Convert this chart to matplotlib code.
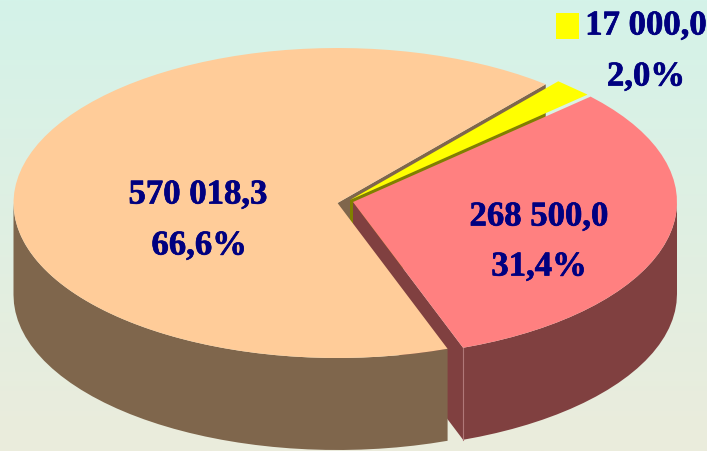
import numpy as np
import matplotlib
matplotlib.use('Agg')
import matplotlib.pyplot as plt
import matplotlib.patheffects as pe

# Values of the three slices
values = [570018.3, 17000.0, 268500.0]
value_labels = ['570 018,3', '17 000,0', '268 500,0']
percent_labels = ['66,6%', '2,0%', '31,4%']

top_colors = ['#FFCC99', '#FFFF00', '#FF8080']
side_colors = ['#7F664C', '#808000', '#804040']
text_color = '#000080'

# Look of the tilted pie, in pixels of the picture
RX = 324.0
RY = 155.0
DEPTH = 92.0
START = 50.0
centers = [(337.5, 203), (350, 200), (353, 202)]

plt.rcParams['font.family'] = ['Liberation Serif']

fig = plt.figure(figsize=(7.07, 4.51), dpi=100)
ax = fig.add_axes([0, 0, 1, 1])
ax.axis('off')

# Background gradient, mint on top to pale beige at the bottom
c1 = np.array([212, 243, 233]) / 255
c2 = np.array([235, 236, 220]) / 255
t = np.linspace(0, 1, 256)[:, None, None]
grad = c1[None, None, :] * (1 - t) + c2[None, None, :] * t
ax.imshow(grad, extent=[0, 707, 451, 0], aspect='auto', zorder=0)
ax.set_xlim(0, 707)
ax.set_ylim(451, 0)


def rim(center, deg):
    a = np.radians(deg)
    return center[0] + RX * np.cos(a), center[1] - RY * np.sin(a)


def arc(center, a1, a2):
    # a1 to a2 in degrees, going counter clockwise
    n = max(int(abs(a2 - a1) / 3), 2)
    return rim(center, np.linspace(a1, a2, n))


def cut_face(center, deg):
    x, y = rim(center, deg)
    px = [center[0], x, x, center[0]]
    py = [center[1], y, y + DEPTH, center[1] + DEPTH]
    return px, py


def outer_wall(center, a1, a2):
    x, y = arc(center, a1, a2)
    px = np.concatenate([x, x[::-1]])
    py = np.concatenate([y, y[::-1] + DEPTH])
    return px, py


def top(center, a1, a2):
    x, y = arc(center, a1, a2)
    return np.concatenate([[center[0]], x]), np.concatenate([[center[1]], y])


# Slice limits from the values, going clockwise from the orange slice start
total = sum(values)
sweep = [v / total * 360 for v in values]
orange_a = (START, START + sweep[0])
yellow_a = (START - sweep[1], START)
red_a = (START - sweep[1] - sweep[2], START - sweep[1])

# Cut faces
px, py = cut_face(centers[0], orange_a[0])
ax.fill(px, py, color=side_colors[0], lw=0, zorder=1)
px, py = cut_face(centers[1], yellow_a[0])
poly = ax.fill(px, py, color=side_colors[1], lw=0, zorder=2)[0]
# the olive face stops short of the rim in the original
poly.set_clip_path(plt.Rectangle((0, 0), 545, 451, transform=ax.transData))
px, py = cut_face(centers[2], red_a[0])
ax.fill(px, py, color=side_colors[2], lw=0, zorder=3)

# Outer walls, only the part facing us
px, py = outer_wall(centers[0], 180, orange_a[1])
ax.fill(px, py, color=side_colors[0], lw=0, zorder=4)
px, py = outer_wall(centers[2], red_a[0], 0)
ax.fill(px, py, color=side_colors[2], lw=0, zorder=4)

# Tops
px, py = top(centers[0], *orange_a)
ax.fill(px, py, color=top_colors[0], lw=0, zorder=5)
px, py = top(centers[1], *yellow_a)
ax.fill(px, py, color=top_colors[1], lw=0, zorder=5)
px, py = top(centers[2], *red_a)
ax.fill(px, py, color=top_colors[2], lw=0, zorder=6)

# Pale line on the corner of the red slice
x0, y0 = rim(centers[2], red_a[0])
ax.plot([x0, x0], [y0, y0 + DEPTH], color='#B07878', lw=0.8, zorder=7)

# Labels, the stroke makes them as heavy as in the original
font = dict(fontsize=25, fontweight='bold', color=text_color, ha='center', va='center', zorder=10,
            path_effects=[pe.withStroke(linewidth=0.5, foreground=text_color)])
ax.text(198, 195, value_labels[0], **font)
ax.text(199, 246, percent_labels[0], **font)
ax.text(539, 217, value_labels[2], **font)
ax.text(539, 267, percent_labels[2], **font)
ax.text(646, 26, value_labels[1], **font)
ax.text(646, 77, percent_labels[1], **font)

# Legend key of the yellow slice
ax.add_patch(plt.Rectangle((556, 13), 23, 26, color=top_colors[1], lw=0, zorder=10))

fig.savefig('out.png', dpi=100)
